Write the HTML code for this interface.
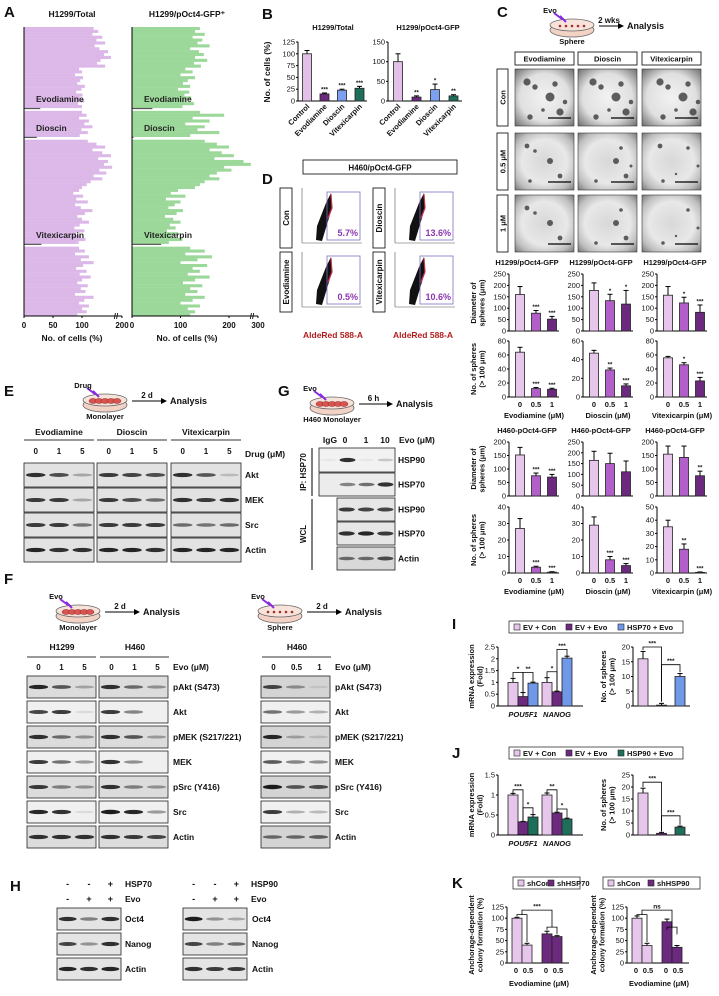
<!DOCTYPE html>
<html><head><meta charset="utf-8">
<style>
html,body{margin:0;padding:0;background:#fff;}
svg{display:block;font-family:"Liberation Sans",Arial,sans-serif;font-weight:bold;}
</style></head>
<body>
<svg id="fig" width="719" height="996" viewBox="0 0 719 996" xmlns="http://www.w3.org/2000/svg">
<defs>
<radialGradient id="mic" cx="50%" cy="50%" r="70%"><stop offset="0" stop-color="#d8d8d8"/><stop offset="0.55" stop-color="#e8e8e8"/><stop offset="0.8" stop-color="#bdbdbd"/><stop offset="1" stop-color="#7a7a7a"/></radialGradient>
<radialGradient id="micb" cx="50%" cy="50%" r="70%"><stop offset="0" stop-color="#f2f2f2"/><stop offset="0.6" stop-color="#e0e0e0"/><stop offset="1" stop-color="#6f6f6f"/></radialGradient>
</defs>
</svg>
<script>
// ---------- DATA ----------
const aTotal=[120,128,118,135,125,140,122,130,145,138,150,132,126,140,
95,100,88,102,97,92,105,99,90,101,96,104,93,100,
28,
100,108,95,112,104,118,99,110,96,
22,
110,125,140,118,135,150,128,145,138,152,130,142,120,135,115,108,100,
95,85,102,90,110,88,98,118,105,92,100,112,96,87,104,90,98,106,94,
30,
95,105,88,112,98,120,102,90,108,96,115,100,92,110,98,106,88,120,104,95,112,100,108,92];
const aGfp=[140,130,150,125,145,135,160,120,138,148,130,155,128,142,
110,125,100,130,115,105,120,95,118,108,122,112,128,104,
42,
140,190,125,160,110,150,135,180,120,
3,
150,175,200,160,185,210,170,230,245,190,205,175,160,180,150,140,130,
95,80,110,70,100,88,75,105,92,68,85,100,78,90,72,95,82,104,76,
60,
120,150,110,165,135,100,155,125,140,115,160,130,105,145,120,135,110,150,125,100,140,115,130,120];
const aDrugNames=["Evodiamine","Dioscin","Vitexicarpin"];
const aDrugRows=[28,38,75];

const bCats=["Control","Evodiamine","Dioscin","Vitexicarpin"];
const bTotalVals=[100,15,23,27], bTotalErr=[7,2,2,4], bTotalStars=["","***","***","***"], bTotalTicks=[0,25,50,75,100,125];
const bGfpVals=[100,10,29,13], bGfpErr=[20,3,14,3], bGfpStars=["","**","*","**"], bGfpTicks=[0,50,100,150];

const cDoses=["0","0.5","1"];
const cDiaEvo=[160,78,52], cDiaEvoErr=[35,12,12], cDiaEvoStars=["","***","***"];
const cDiaDio=[178,133,118], cDiaDioErr=[33,28,60], cDiaDioStars=["","*","*"];
const cDiaVit=[157,123,82], cDiaVitErr=[38,25,32], cDiaVitStars=["","*","***"];
const cDiaTicks=[0,50,100,150,200,250];
const cSphEvo=[64,12,11], cSphEvoErr=[7,1.5,1.5], cSphEvoStars=["","***","***"], cSphEvoTicks=[0,20,40,60,80];
const cSphDio=[47,29,12], cSphDioErr=[3,2,2], cSphDioStars=["","**","***"], cSphDioTicks=[0,20,40,60];
const cSphVit=[56,46,23], cSphVitErr=[2,3,5], cSphVitStars=["","*","***"], cSphVitTicks=[0,20,40,60,80];
const cH460DiaEvo=[152,75,70], cH460DiaEvoErr=[28,10,10], cH460DiaEvoStars=["","***","***"], cH460DiaEvoTicks=[0,50,100,150,200];
const cH460DiaDio=[165,150,112], cH460DiaDioErr=[42,48,50], cH460DiaDioStars=["","",""], cH460DiaDioTicks=[0,50,100,150,200,250];
const cH460DiaVit=[155,143,75], cH460DiaVitErr=[30,42,17], cH460DiaVitStars=["","","**"], cH460DiaVitTicks=[0,50,100,150,200];
const cH460SphEvo=[27,3.5,0.5], cH460SphEvoErr=[6,0.6,0.3], cH460SphEvoStars=["","***","***"], cH460SphEvoTicks=[0,10,20,30,40];
const cH460SphDio=[29,8,4.5], cH460SphDioErr=[5,2,1.2], cH460SphDioStars=["","***","***"], cH460SphDioTicks=[0,10,20,30,40];
const cH460SphVit=[35,18,0.5], cH460SphVitErr=[5,4,0.3], cH460SphVitStars=["","**","***"], cH460SphVitTicks=[0,10,20,30,40,50];

const iGenes=["POU5F1","NANOG"];
const iPou=[1.0,0.4,0.97], iPouErr=[0.17,0.17,0.04], iNan=[1.0,0.6,2.03], iNanErr=[0.2,0.03,0.08], iMrnaTicks=["0","0.5","1","1.5","2","2.5"];
const iSph=[16,0.3,10], iSphErr=[2.5,0.6,1], iSphTicks=[0,5,10,15,20];
const jPou=[1.0,0.33,0.45], jPouErr=[0.04,0.01,0.06], jNan=[1.0,0.55,0.4], jNanErr=[0.05,0.02,0.02], jMrnaTicks=["0","0.5","1","1.5"];
const jSph=[17.5,0.7,3.3], jSphErr=[2,0.4,0.4], jSphTicks=[0,5,10,15,20,25];
const kHsp70=[100,40,65,59], kHsp70Err=[2,4,6,2], kHsp90=[100,39,92,35], kHsp90Err=[5,5,6,4], kTicks=[0,25,50,75,100,125];

// blot intensities (per lane)
const eAkt=[0.9,0.75,0.3, 0.85,0.8,0.75, 0.9,0.7,0.2];
const eMek=[0.85,0.85,0.3, 0.85,0.75,0.6, 0.9,0.85,0.9];
const eSrc=[0.85,0.85,0.55, 0.85,0.85,0.85, 0.6,0.55,0.6];
const eActin=[0.95,0.9,0.9, 0.95,0.95,0.9, 0.95,0.95,0.95];
const fPakt=[0.95,0.7,0.3, 0.9,0.6,0.4, 0.8,0.4,0.1];
const fAkt=[0.8,0.85,0.1, 0.85,0.5,0.0, 0.6,0.4,0.3];
const fPmek=[0.9,0.6,0.4, 0.9,0.7,0.35, 0.95,0.3,0.15];
const fMek=[0.85,0.6,0.4, 0.9,0.45,0.0, 0.7,0.5,0.45];
const fPsrc=[0.85,0.5,0.4, 0.9,0.5,0.4, 1.0,0.7,0.75];
const fSrc=[0.95,0.9,0.1, 1.0,0.95,0.4, 0.85,0.3,0.25];
const fActin=[0.9,0.9,0.9, 0.9,0.85,0.8, 0.6,0.6,0.65];
const gIpHsp90=[0.05,0.9,0.05,0.2], gIpHsp70=[0.0,0.5,0.6,0.9];
const gWclHsp90=[0.85,0.8,0.8], gWclHsp70=[0.9,0.95,0.85], gWclActin=[0.6,0.6,0.75];
const hOct4=[0.9,0.5,0.9, 1.0,0.4,0.3], hNanog=[0.8,0.4,0.9, 0.8,0.5,0.6], hActin=[0.95,0.9,0.95, 0.9,0.85,0.85];

// ---------- HELPERS ----------
const NS="http://www.w3.org/2000/svg";
const svg=document.getElementById('fig');
function mk(tag,attrs,parent){const e=document.createElementNS(NS,tag);for(const k in attrs)e.setAttribute(k,attrs[k]);(parent||svg).appendChild(e);return e;}
function T(x,y,s,size,anchor,parent,extra){const t=mk('text',Object.assign({x:x,y:y,'font-size':size,'text-anchor':anchor||'middle',fill:'#111'},extra||{}),parent);t.textContent=s;return t;}
function grp(name){const g=mk('g',{});


return g;}

[["A",4,17],["B",262,19],["C",497,17],["D",262,184],["E",4,396],["G",278,396],["F",4,584],["H",10,891],["I",452,629],["J",452,758],["K",452,888]].forEach(p=>{
 const t=T(p[1],p[2],p[0],15,'start');
 
 
});

// ---------- PANEL A ----------
function panelA(name,vals,x0,yT,yB,scale,maxLin,xBreak,color,ticks,tickPos,title,cx){
 const g=grp(name);
 const n=vals.length, rh=(yB-yT)/n;
 const xs=v=> v<=maxLin ? x0+v*scale : xBreak;
 vals.forEach((v,i)=>{
  const low=aDrugRows.indexOf(i)>=0;
  const r=mk('rect',{x:x0,y:yT+i*rh,width:Math.max(1,xs(v)-x0),height:low?1.2:rh+0.2,fill:low?'#555':color},g);
  
  
 });
 aDrugRows.forEach((r,k)=>{
  const t=T(x0+12,yT+r*rh-6,aDrugNames[k],8.5,'start',g,{fill:'#222'});
  
  
 });
 mk('line',{x1:x0,y1:yT,x2:x0,y2:yB,stroke:'#000','stroke-width':1},g);
 mk('line',{x1:x0,y1:yB,x2:tickPos[tickPos.length-1],y2:yB,stroke:'#000','stroke-width':1},g);
 T(xBreak-6,yB+3,"//",8,'middle',g);
 ticks.forEach((tk,i)=>{mk('line',{x1:tickPos[i],y1:yB,x2:tickPos[i],y2:yB+2,stroke:'#000'},g);
  const t=T(tickPos[i],yB+12,String(tk),8,'middle',g);
  
  });
 const xt=T(cx,yB+25,"No. of cells (%)",8.5,'middle',g);
 
 
 const tt=T(cx,17,title,8.5,'middle',g);
 
 
}
panelA('panel-a-total',aTotal,24,27,316,0.58,160,122,'#dcb8e8',[0,50,100,200],[24,24+50*0.58,24+100*0.58,122],"H1299/Total",72);
panelA('panel-a-gfp',aGfp,132,27,316,0.485,250,258,'#9cd89a',[0,100,200,300],[132,132+100*0.485,132+200*0.485,258],"H1299/pOct4-GFP\u207A",187);

// ---------- Generic bar chart ----------
function barChart(o){
 const g=grp(o.name);
 const yv=v=>o.yB-v/o.max*(o.yB-o.yT);
 const xEnd=o.xEnd||(o.ax+o.off+(o.vals.length-1)*o.step+o.bw/2+6);
 mk('line',{x1:o.ax,y1:o.yT,x2:o.ax,y2:o.yB,stroke:'#000','stroke-width':1},g);
 mk('line',{x1:o.ax,y1:o.yB,x2:xEnd,y2:o.yB,stroke:'#000','stroke-width':1},g);
 o.ticks.forEach(tk=>{const v=parseFloat(tk);const y=yv(v);
  mk('line',{x1:o.ax-2,y1:y,x2:o.ax,y2:y,stroke:'#000'},g);
  const t=T(o.ax-3,y+2.5,String(tk),o.fs||7.5,'end',g,{'font-weight':'normal'});
  
  });
 o.vals.forEach((v,i)=>{
  const cx=o.ax+o.off+i*o.step+(o.gap&&i>=o.gapAt?o.gap:0);
  const y=yv(v);
  if(o.errs){const ye=yv(v+o.errs[i]);
   mk('line',{x1:cx,y1:y,x2:cx,y2:ye,stroke:'#000'},g);
   mk('line',{x1:cx-2.5,y1:ye,x2:cx+2.5,y2:ye,stroke:'#000'},g);}
  const r=mk('rect',{x:cx-o.bw/2,y:y,width:o.bw,height:Math.max(0.5,o.yB-y),fill:o.colors[i%o.colors.length],stroke:'#222','stroke-width':0.8},g);
  
  
  if(o.stars&&o.stars[i]){const ye=yv(v+(o.errs?o.errs[i]:0));
   const s=T(cx,ye-1.5,o.stars[i],6,'middle',g);
   
   }
  if(o.cats){
   if(o.rot){const t=T(cx+3,o.yB+6,o.cats[i],7.5,'end',g,{transform:`rotate(-45 ${cx+3} ${o.yB+6})`});
    
    }
   else{const t=T(cx,o.yB+10,o.cats[i],7.5,'middle',g);
    
    }
  }
 });
 if(o.title){const t=T(o.titleX||(o.ax+(xEnd-o.ax)/2),o.titleY,o.title,7.5,'middle',g);
  
  }
 if(o.xtitle){const t=T(o.ax+(xEnd-o.ax)/2,o.yB+21,o.xtitle,7.5,'middle',g);
  
  }
 return {g:g,yv:yv,cx:i=>o.ax+o.off+i*o.step+(o.gap&&i>=o.gapAt?o.gap:0)};
}
function rotLabel(x,y,lines,size,name){
 const g=grp(name);
 lines.forEach((l,i)=>{const xx=x+i*(size+1);T(xx,y,l,size,'middle',g,{transform:`rotate(-90 ${xx} ${y})`});});
}

// ---------- PANEL B ----------
const bCols=['#e2c0e8','#6b2a7e','#7d9ff0','#1f6e5a'];
barChart({name:'panel-b-total-chart',ax:298,yT:42,yB:101,max:125,ticks:bTotalTicks,vals:bTotalVals,errs:bTotalErr,stars:bTotalStars,colors:bCols,off:9,step:17.5,bw:9,cats:bCats,rot:true,xEnd:367,title:"H1299/Total",titleY:30,titleX:333});
barChart({name:'panel-b-gfp-chart',ax:388,yT:42,yB:101,max:150,ticks:bGfpTicks,vals:bGfpVals,errs:bGfpErr,stars:bGfpStars,colors:bCols,off:10,step:18.5,bw:9,cats:bCats,rot:true,xEnd:462,title:"H1299/pOct4-GFP",titleY:30,titleX:428});
rotLabel(270,72,["No. of cells (%)"],8.5,'panel-b-y-title');

// ---------- PANEL C ----------
function dish(x,y,name,monolayer,label,drug,arrowTxt,anaX){
 const g=grp(name);
 mk('ellipse',{cx:x,cy:y+5,rx:22,ry:7,fill:'#f3d2c6',stroke:'#666','stroke-width':0.8},g);
 mk('ellipse',{cx:x,cy:y,rx:22,ry:6,fill:'#f8e3da',stroke:'#666','stroke-width':0.8},g);
 if(monolayer){for(let i=-2;i<=2;i++)mk('ellipse',{cx:x+i*6,cy:y+1,rx:4,ry:2.5,fill:'#d9534f',stroke:'#8a2a2a','stroke-width':0.5},g);}
 else{for(let i=-2;i<=2;i++)mk('circle',{cx:x+i*6,cy:y+1,r:1.3,fill:'#a03030'},g);}
 mk('path',{d:`M${x-18} ${y-12} L${x-10} ${y-6} L${x-12} ${y-9} L${x-6} ${y-3}`,stroke:'#8a2be2','stroke-width':2,fill:'none'},g);
 T(x-22,y-12,drug,7.5,'middle',g);
 T(x,y+19,label,7.5,'middle',g);
 mk('line',{x1:x+27,y1:y+1,x2:anaX-8,y2:y+1,stroke:'#000','stroke-width':1},g);
 mk('path',{d:`M${anaX-9} ${y-2} L${anaX-3} ${y+1} L${anaX-9} ${y+4}Z`,fill:'#000'},g);
 T((x+27+anaX-8)/2,y-2,arrowTxt,8,'middle',g);
 const a=T(anaX,y+4,"Analysis",9,'start',g);
 
 
}
dish(572,25,'panel-c-schematic',false,"Sphere","Evo","2 wks",627);
const cCols=["Evodiamine","Dioscin","Vitexicarpin"], cRowsL=["Con","0.5 \u03BCM","1 \u03BCM"];
const cColX=[515,578,642], cRowY=[69,133,195];
cCols.forEach((c,i)=>{const r=mk('rect',{x:cColX[i],y:52,width:59,height:13,fill:'#fff',stroke:'#000','stroke-width':0.8});
 
 
 T(cColX[i]+29.5,61.5,c,7.5);});
const blobs=[[12,10,4],[20,15,3],[35,25,5],[45,40,4],[15,45,3],[40,12,3],[50,30,2.5],[28,38,2]];
cRowsL.forEach((r,j)=>{
 const b=mk('rect',{x:497,y:cRowY[j],width:11,height:57,fill:'#fff',stroke:'#000','stroke-width':0.8});
 
 
 T(505.5,cRowY[j]+28.5,r,7.5,'middle',svg,{transform:`rotate(-90 505.5 ${cRowY[j]+28.5})`});
 cColX.forEach((x,i)=>{
  const im=mk('rect',{x:x,y:cRowY[j],width:59,height:57,fill:j==0?'url(#micb)':'url(#mic)',stroke:'#333','stroke-width':0.6});
  
  
  const nb=j==0?8:(j==1?5:4);
  for(let k=0;k<nb;k++){const bb=blobs[(k+i*2)%blobs.length];mk('circle',{cx:x+bb[0]+(i*3)%7,cy:cRowY[j]+bb[1]+3,r:bb[2]*(j==0?0.9:0.6),fill:'#3a3a3a',opacity:0.8});}
  mk('line',{x1:x+33,y1:cRowY[j]+49,x2:x+56,y2:cRowY[j]+49,stroke:'#000','stroke-width':1.2});
 });
});
const c3=['#e6c6ea','#b35fc9','#6b2a7e'];
function cChart(name,ax,yT,yB,max,ticks,vals,errs,stars,title,titleY,xtitle){
 return barChart({name:name,ax:ax,yT:yT,yB:yB,max:max,ticks:ticks,vals:vals,errs:errs,stars:stars,colors:c3,off:11,step:16,bw:9,xEnd:ax+50,title:title,titleY:titleY,titleX:ax+18,cats:xtitle?cDoses:null,xtitle:xtitle});
}
const cAx=[509,583,657];
cChart('c-h1299-dia-evo',cAx[0],274,331,250,cDiaTicks,cDiaEvo,cDiaEvoErr,cDiaEvoStars,"H1299/pOct4-GFP",265);
cChart('c-h1299-dia-dio',cAx[1],274,331,250,cDiaTicks,cDiaDio,cDiaDioErr,cDiaDioStars,"H1299/pOct4-GFP",265);
cChart('c-h1299-dia-vit',cAx[2],274,331,250,cDiaTicks,cDiaVit,cDiaVitErr,cDiaVitStars,"H1299/pOct4-GFP",265);
cChart('c-h1299-sph-evo',cAx[0],341,397,80,cSphEvoTicks,cSphEvo,cSphEvoErr,cSphEvoStars,null,0,"Evodiamine (\u03BCM)");
cChart('c-h1299-sph-dio',cAx[1],341,397,60,cSphDioTicks,cSphDio,cSphDioErr,cSphDioStars,null,0,"Dioscin (\u03BCM)");
cChart('c-h1299-sph-vit',cAx[2],341,397,80,cSphVitTicks,cSphVit,cSphVitErr,cSphVitStars,null,0,"Vitexicarpin (\u03BCM)");
cChart('c-h460-dia-evo',cAx[0],442,496,200,cH460DiaEvoTicks,cH460DiaEvo,cH460DiaEvoErr,cH460DiaEvoStars,"H460-pOct4-GFP",433);
cChart('c-h460-dia-dio',cAx[1],442,496,250,cH460DiaDioTicks,cH460DiaDio,cH460DiaDioErr,cH460DiaDioStars,"H460-pOct4-GFP",433);
cChart('c-h460-dia-vit',cAx[2],442,496,200,cH460DiaVitTicks,cH460DiaVit,cH460DiaVitErr,cH460DiaVitStars,"H460-pOct4-GFP",433);
cChart('c-h460-sph-evo',cAx[0],507,573,40,cH460SphEvoTicks,cH460SphEvo,cH460SphEvoErr,cH460SphEvoStars,null,0,"Evodiamine (\u03BCM)");
cChart('c-h460-sph-dio',cAx[1],507,573,40,cH460SphDioTicks,cH460SphDio,cH460SphDioErr,cH460SphDioStars,null,0,"Dioscin (\u03BCM)");
cChart('c-h460-sph-vit',cAx[2],507,573,50,cH460SphVitTicks,cH460SphVit,cH460SphVitErr,cH460SphVitStars,null,0,"Vitexicarpin (\u03BCM)");
rotLabel(476,303,["Diameter of","spheres (\u03BCm)"],7.5,'c-y-title-dia1');
rotLabel(476,369,["No. of spheres","(> 100 \u03BCm)"],7.5,'c-y-title-sph1');
rotLabel(476,469,["Diameter of","spheres (\u03BCm)"],7.5,'c-y-title-dia2');
rotLabel(476,540,["No. of spheres","(> 100 \u03BCm)"],7.5,'c-y-title-sph2');

// ---------- PANEL D ----------
(function(){
 const g=grp('panel-d');
 mk('rect',{x:303,y:160,width:154,height:14,fill:'#fff',stroke:'#000','stroke-width':0.8},g);
 T(380,170.5,"H460/pOct4-GFP",8,'middle',g);
 const labs=[["Con",280,188,"5.7%"],["Evodiamine",280,252,"0.5%"],["Dioscin",373,188,"13.6%"],["Vitexicarpin",373,252,"10.6%"]];
 labs.forEach(l=>{
  mk('rect',{x:l[1],y:l[2],width:12,height:60,fill:'#fff',stroke:'#000','stroke-width':0.8},g);
  T(l[1]+9,l[2]+30,l[0],8,'middle',g,{transform:`rotate(-90 ${l[1]+9} ${l[2]+30})`});
  const px=l[1]+22,py=l[2];
  mk('line',{x1:px,y1:py,x2:px,y2:py+55,stroke:'#555','stroke-width':0.6},g);
  mk('line',{x1:px,y1:py+55,x2:px+60,y2:py+55,stroke:'#555','stroke-width':0.6},g);
  mk('path',{d:`M${px+14} ${py+52} L${px+20} ${py+53} L${px+30} ${py+20} L${px+29} ${py+5} L${px+24} ${py+15} L${px+15} ${py+38}Z`,fill:'#111'},g);
  mk('path',{d:`M${px+26} ${py+30} L${px+30} ${py+20} L${px+29} ${py+6}`,stroke:'#d0304a','stroke-width':1.2,fill:'none'},g);
  mk('rect',{x:px+25,y:py+4,width:33,height:48,fill:'none',stroke:'#8070c0','stroke-width':0.8},g);
  const t=T(px+56,py+48,l[3],9,'end',g,{fill:'#8b35b0'});
  
  
 });
 T(333,338,"AldeRed 588-A",8.5,'middle',g,{fill:'#b01e1e'});
 T(423,338,"AldeRed 588-A",8.5,'middle',g,{fill:'#b01e1e'});
})();

// ---------- Blot helper ----------
function blot(name,x,y,w,h,intens,bg,label,lx){
 const g=grp(name);
 mk('rect',{x:x,y:y,width:w,height:h,fill:bg||'#e4e4e4',stroke:'#222','stroke-width':0.8},g);
 const n=intens.length;
 intens.forEach((v,i)=>{const cx=x+w*(i+0.5)/n;
  const b=mk('ellipse',{cx:cx,cy:y+h/2,rx:w/n*0.42,ry:1.2+v*1.0,fill:'#111',opacity:v*0.95},g);
  
  });
 if(label){const t=T(lx,y+h/2+3,label,8.5,'start',g);
  
  }
}

// ---------- PANEL E ----------
dish(105,400,'panel-e-schematic',true,"Monolayer","Drug","2 d",170);
(function(){
 const g=grp('panel-e-header');
 const names=["Evodiamine","Dioscin","Vitexicarpin"], bx=[24,97,171];
 names.forEach((n,i)=>{T(bx[i]+35,435,n,8.5,'middle',g);mk('line',{x1:bx[i],y1:440,x2:bx[i]+70,y2:440,stroke:'#333'},g);
  ["0","1","5"].forEach((d,k)=>T(bx[i]+70*(k+0.5)/3,454,d,8,'middle',g));});
 T(245,457,"Drug (\u03BCM)",8.5,'start',g);
})();
[["Akt",eAkt,463],["MEK",eMek,488],["Src",eSrc,513],["Actin",eActin,538]].forEach(r=>{
 [24,97,171].forEach((bx,i)=>blot('e-blot-'+r[0].toLowerCase(),bx,r[2],70,24,r[1].slice(i*3,i*3+3),'#e2e2e2',i==2?r[0]:null,245));
});

// ---------- PANEL G ----------
dish(332,403,'panel-g-schematic',true,"H460 Monolayer","Evo","6 h",396);
(function(){
 const g=grp('panel-g-header');
 T(330,443,"IgG",8.5,'middle',g);T(345,443,"0",8.5,'middle',g);T(366,443,"1",8.5,'middle',g);T(385,443,"10",8.5,'middle',g);
 T(399,443,"Evo (\u03BCM)",8.5,'start',g);
 mk('line',{x1:312,y1:448,x2:312,y2:496,stroke:'#000'},g);
 mk('line',{x1:312,y1:499,x2:312,y2:570,stroke:'#000'},g);
 T(306,472,"IP: HSP70",8,'middle',g,{transform:'rotate(-90 306 472)'});
 T(306,534,"WCL",8,'middle',g,{transform:'rotate(-90 306 534)'});
})();
blot('g-ip-hsp90',319,448,76,24,gIpHsp90,'#f2f2f2',"HSP90",398);
blot('g-ip-hsp70',319,473,76,23,gIpHsp70,'#ececec',"HSP70",398);
blot('g-wcl-hsp90',337,498,58,23,gWclHsp90,'#e6e6e6',"HSP90",398);
blot('g-wcl-hsp70',337,522,58,23,gWclHsp70,'#e6e6e6',"HSP70",398);
blot('g-wcl-actin',337,547,58,23,gWclActin,'#d8d8d8',"Actin",398);

// ---------- PANEL F ----------
dish(78,611,'panel-f-schematic-monolayer',true,"Monolayer","Evo","2 d",143);
dish(280,611,'panel-f-schematic-sphere',false,"Sphere","Evo","2 d",345);
(function(){
 const g=grp('panel-f-header');
 [["H1299",27],["H460",100],["H460",262]].forEach(h=>{T(h[1]+35,650,h[0],8.5,'middle',g);mk('line',{x1:h[1],y1:657,x2:h[1]+69,y2:657,stroke:'#333'},g);});
 [[27,["0","1","5"]],[100,["0","1","5"]],[262,["0","0.5","1"]]].forEach(b=>b[1].forEach((d,k)=>T(b[0]+69*(k+0.5)/3,670,d,8,'middle',g)));
 T(173,670,"Evo (\u03BCM)",8.5,'start',g);T(335,670,"Evo (\u03BCM)",8.5,'start',g);
})();
[["pAkt (S473)",fPakt],["Akt",fAkt],["pMEK (S217/221)",fPmek],["MEK",fMek],["pSrc (Y416)",fPsrc],["Src",fSrc],["Actin",fActin]].forEach((r,j)=>{
 const y=676+j*25;
 blot('f-blot-h1299',27,y,69,22,r[1].slice(0,3),j%2?'#f0f0f0':'#dcdcdc',null,0);
 blot('f-blot-h460',99,y,69,22,r[1].slice(3,6),j%2?'#f0f0f0':'#dcdcdc',r[0],173);
 blot('f-blot-h460-sphere',261,y,69,22,r[1].slice(6,9),j%2?'#f0f0f0':'#d4d4d4',r[0],335);
});

// ---------- PANEL H ----------
(function(){
 const g=grp('panel-h-header');
 const s70=["-","-","+"],sEvo=["-","+","+"];
 [[57,"HSP70"],[183,"HSP90"]].forEach(b=>{
  for(let k=0;k<3;k++){T(b[0]+64*(k+0.5)/3,887,s70[k],9,'middle',g);T(b[0]+64*(k+0.5)/3,902,sEvo[k],9,'middle',g);}
  T(b[0]+68,887,b[1],8.5,'start',g);T(b[0]+68,902,"Evo",8.5,'start',g);
 });
})();
[["Oct4",hOct4,908],["Nanog",hNanog,933],["Actin",hActin,958]].forEach(r=>{
 blot('h-blot-hsp70',57,r[2],64,22,r[1].slice(0,3),'#e4e4e4',r[0],125);
 blot('h-blot-hsp90',183,r[2],64,22,r[1].slice(3,6),'#e4e4e4',r[0],252);
});

// ---------- Legends ----------
function legend(name,x,y,w,items){
 const g=grp(name);
 mk('rect',{x:x,y:y,width:w,height:12,fill:'#fff',stroke:'#333','stroke-width':0.8},g);
 let cx=x+5;
 items.forEach(it=>{mk('rect',{x:cx,y:y+3,width:6,height:6,fill:it[1],stroke:'#222','stroke-width':0.6},g);
  const t=T(cx+9,y+9,it[0],7.5,'start',g);
  
  
  cx+=it[2];});
}
legend('i-legend',509,621,174,[["EV + Con",'#e6c6ea',52],["EV + Evo",'#6b2a7e',52],["HSP70 + Evo",'#6f98e8',60]]);
legend('j-legend',509,747,174,[["EV + Con",'#e6c6ea',52],["EV + Evo",'#6b2a7e',52],["HSP90 + Evo",'#1f6e5a',60]]);
legend('k-legend-70',513,877,67,[["shCon",'#e6c6ea',30],["shHSP70",'#6b2a7e',36]]);
legend('k-legend-90',603,877,97,[["shCon",'#e6c6ea',40],["shHSP90",'#6b2a7e',50]]);

// ---------- PANEL I / J ----------
function bracket(g,x1,x2,y,yl1,yl2,lab){
 mk('path',{d:`M${x1} ${yl1} L${x1} ${y} L${x2} ${y} L${x2} ${yl2}`,stroke:'#000',fill:'none','stroke-width':0.8},g);
 T((x1+x2)/2,y-1.5,lab,6.5,'middle',g);
}
function mrna(name,yT,yB,max,ticks,pou,pouE,nan,nanE,cols,br){
 const c1=barChart({name:name+'-pou',ax:498,yT:yT,yB:yB,max:max,ticks:ticks,vals:pou,errs:pouE,colors:cols,off:15,step:10,bw:10,xEnd:583});
 const c2=barChart({name:name+'-nanog',ax:498,yT:yT,yB:yB,max:max,ticks:[],vals:nan,errs:nanE,colors:cols,off:49,step:10,bw:10,xEnd:583});
 T(523,yB+11,iGenes[0],7.5,'middle',c1.g,{'font-style':'italic'});
 T(557,yB+11,iGenes[1],7.5,'middle',c2.g,{'font-style':'italic'});
 br.forEach(b=>{const cc=b[0]<3?c1:c2;const i1=b[0]%3,i2=b[1]%3;
  bracket(cc.g,cc.cx(i1),cc.cx(i2),cc.yv(b[2]),cc.yv(b[3]),cc.yv(b[4]),b[5]);});
 rotLabel(474,(yT+yB)/2,["mRNA expression","(Fold)"],7.5,name+'-y-title');
}
mrna('i-mrna',647,706,2.5,iMrnaTicks,iPou,iPouErr,iNan,iNanErr,['#e6c6ea','#6b2a7e','#6f98e8'],
 [[0,1,1.42,1.2,0.6,"*"],[1,2,1.42,0.6,1.02,"**"],[3,4,1.45,1.22,0.65,"*"],[4,5,2.4,0.65,2.12,"***"]]);
mrna('j-mrna',775,835,1.5,jMrnaTicks,jPou,jPouErr,jNan,jNanErr,['#e6c6ea','#6b2a7e','#1f6e5a'],
 [[0,1,1.13,1.05,0.35,"***"],[1,2,0.68,0.35,0.52,"*"],[3,4,1.13,1.06,0.58,"**"],[4,5,0.65,0.58,0.43,"*"]]);
function sph(name,yT,yB,max,ticks,vals,errs,cols,top){
 const c=barChart({name:name,ax:633,yT:yT,yB:yB,max:max,ticks:ticks,vals:vals,errs:errs,colors:cols,off:10,step:18.5,bw:10,xEnd:690});
 bracket(c.g,c.cx(0),c.cx(1),c.yv(top[0]),c.yv(top[1]),c.yv(top[2]),"***");
 bracket(c.g,c.cx(1),c.cx(2),c.yv(top[3]),c.yv(top[4]),c.yv(top[5]),"***");
 rotLabel(606,(yT+yB)/2,["No. of spheres","(> 100 \u03BCm)"],7.5,name+'-y-title');
}
sph('i-spheres',647,706,20,iSphTicks,iSph,iSphErr,['#e6c6ea','#6b2a7e','#6f98e8'],[20,19,1.5,14,1.5,11.5]);
sph('j-spheres',775,835,25,jSphTicks,jSph,jSphErr,['#e6c6ea','#6b2a7e','#1f6e5a'],[22,20,1.5,8,1.5,4.2]);

// ---------- PANEL K ----------
function kChart(name,ax,vals,errs,lab,yl){
 const c=barChart({name:name,ax:ax,yT:907,yB:963,max:125,ticks:kTicks,vals:vals,errs:errs,colors:['#e6c6ea','#e6c6ea','#6b2a7e','#6b2a7e'],off:10,step:10,bw:10,gap:10,gapAt:2,xEnd:ax+62});
 T(c.cx(0)-1,973,"0",7.5,'middle',c.g);T(c.cx(1)+1,973,"0.5",7.5,'middle',c.g);
 T(c.cx(2)-1,973,"0",7.5,'middle',c.g);T(c.cx(3)+1,973,"0.5",7.5,'middle',c.g);
 T(ax+32,986,"Evodiamine (\u03BCM)",7.5,'middle',c.g);
 const m1=(c.cx(0)+c.cx(1))/2,m2=(c.cx(2)+c.cx(3))/2;
 bracket(c.g,c.cx(0),c.cx(1),c.yv(108),c.yv(104),c.yv(47),"");
 bracket(c.g,c.cx(2),c.cx(3),c.yv(80),c.yv(74),c.yv(64),"");
 bracket(c.g,m1,m2,c.yv(118),c.yv(108),c.yv(80),lab);
 rotLabel(yl,935,["Anchorage-dependent","colony formation (%)"],7.5,name+'-y-title');
}
kChart('k-hsp70',507,kHsp70,kHsp70Err,"***",474);
kChart('k-hsp90',627,kHsp90,kHsp90Err,"ns",596);
</script>
</body></html>
